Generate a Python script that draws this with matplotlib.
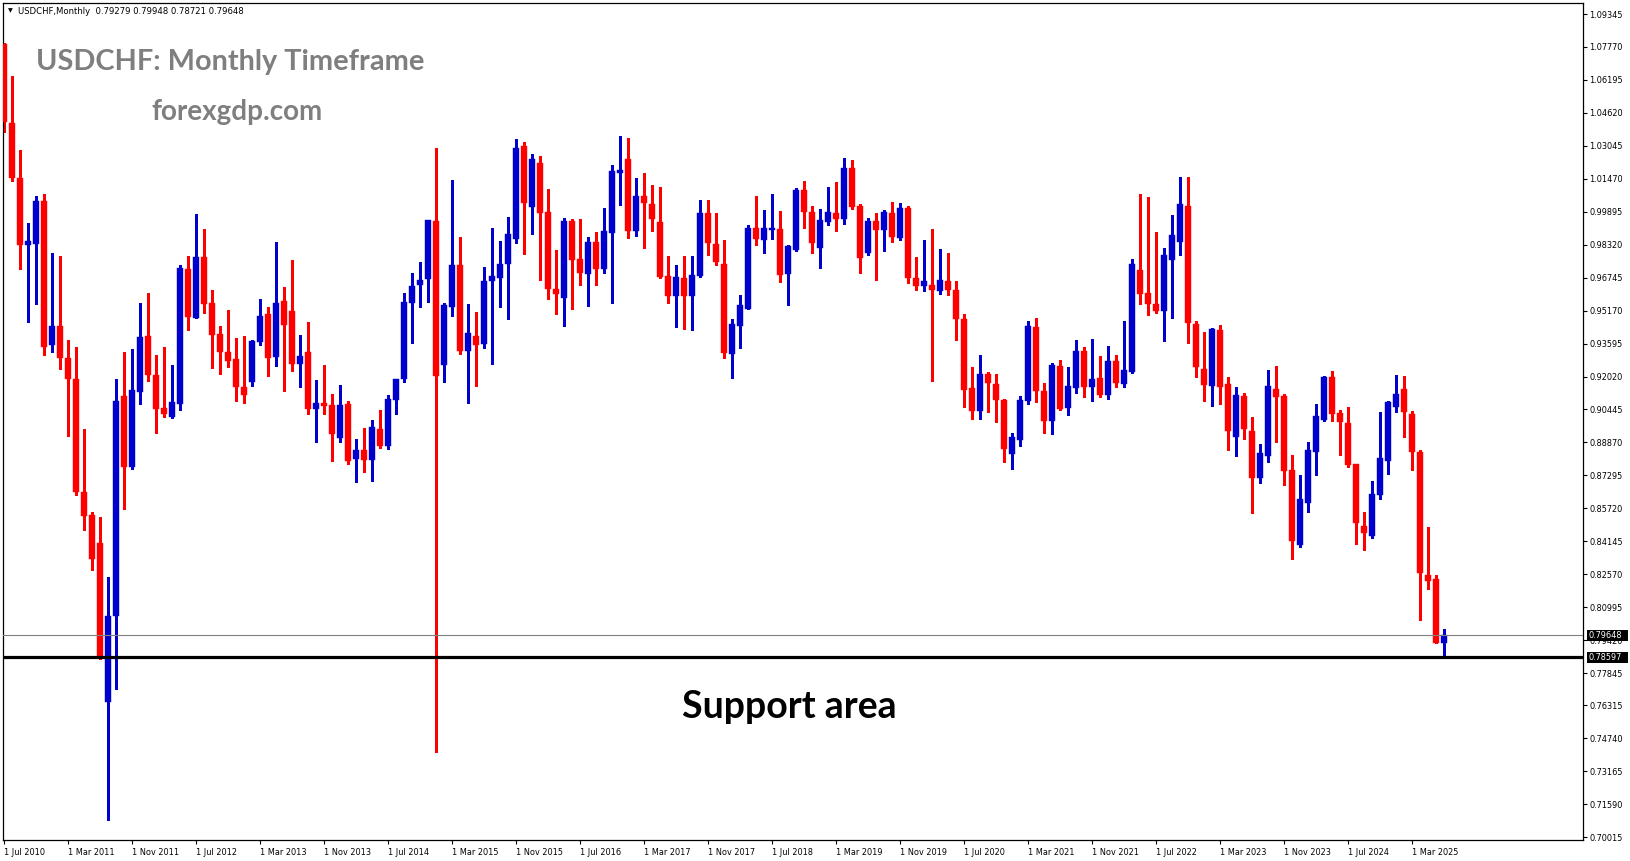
import numpy as np
import matplotlib
matplotlib.use("Agg")
import matplotlib.pyplot as plt
import matplotlib.transforms as mtransforms
from matplotlib.patches import Rectangle

# ---------------- data (monthly candles, 1 Jul 2010 .. 1 Jul 2025) ----------------
opens = [1.0789, 1.0414, 1.0150, 0.9829, 0.9835, 1.0041, 0.9353, 0.9443, 0.9290, 0.9192,
         0.8651, 0.8540, 0.8406, 0.7648, 0.8058, 0.9109, 0.8768, 0.9129, 0.9395, 0.9209,
         0.9050, 0.9007, 0.9072, 0.9716, 0.9480, 0.9773, 0.9555, 0.9404, 0.9319, 0.9284,
         0.9151, 0.9175, 0.9365, 0.9502, 0.9297, 0.9562, 0.9515, 0.9262, 0.9317, 0.9049,
         0.9075, 0.9065, 0.8910, 0.9071, 0.8810, 0.8850, 0.8804, 0.8950, 0.8870, 0.9091,
         0.9192, 0.9554, 0.9640, 0.9668, 0.9944, 0.9256, 0.9534, 0.9733, 0.9325, 0.9397,
         0.9357, 0.9658, 0.9675, 0.9739, 0.9860, 1.0302, 1.0013, 1.0223, 0.9988, 0.9620,
         0.9577, 0.9945, 0.9763, 0.9691, 0.9844, 0.9715, 0.9889, 1.0176, 1.0240, 0.9898,
         1.0064, 1.0026, 0.9940, 0.9682, 0.9588, 0.9672, 0.9588, 0.9682, 0.9984, 0.9835,
         0.9739, 0.9312, 0.9444, 0.9524, 0.9913, 0.9854, 0.9902, 0.9906, 0.9691, 0.9806,
         1.0093, 0.9989, 0.9817, 0.9941, 0.9983, 0.9954, 1.0198, 1.0017, 0.9793, 0.9945,
         0.9903, 0.9983, 0.9865, 1.0007, 0.9674, 0.9635, 0.9639, 0.9611, 0.9658, 0.9615,
         0.9478, 0.9146, 0.9038, 0.9213, 0.9166, 0.9089, 0.8832, 0.8898, 0.9086, 0.9438,
         0.9132, 0.8990, 0.9252, 0.9052, 0.9148, 0.9323, 0.9153, 0.9194, 0.9113, 0.9275,
         0.9166, 0.9224, 0.9710, 0.9599, 0.9551, 0.9516, 0.9758, 0.9846, 1.0016, 0.9452,
         0.9236, 0.9156, 0.9424, 0.9166, 0.8914, 0.9108, 0.8941, 0.8718, 0.8823, 0.9142,
         0.9108, 0.8754, 0.8396, 0.8598, 0.8842, 0.8993, 0.9199, 0.9027, 0.8979, 0.8783,
         0.8487, 0.8439, 0.8635, 0.8799, 0.9057, 0.9142, 0.9022, 0.8842, 0.8253, 0.8233,
         0.79279]
highs = [1.0795, 1.0638, 1.0285, 0.9936, 1.0063, 1.0072, 0.9792, 0.9777, 0.9375, 0.9343,
         0.8950, 0.8553, 0.8529, 0.8243, 0.9189, 0.9321, 0.9333, 0.9553, 0.9601, 0.9304,
         0.9341, 0.9255, 0.9736, 0.9777, 0.9980, 0.9906, 0.9614, 0.9443, 0.9521, 0.9384,
         0.9395, 0.9375, 0.9572, 0.9534, 0.9845, 0.9630, 0.9759, 0.9401, 0.9463, 0.9186,
         0.9256, 0.9120, 0.9162, 0.9085, 0.8904, 0.8957, 0.8995, 0.9043, 0.9115, 0.9192,
         0.9602, 0.9695, 0.9749, 0.9950, 1.0296, 0.9552, 1.0141, 0.9870, 0.9548, 0.9512,
         0.9725, 0.9914, 0.9850, 0.9964, 1.0336, 1.0322, 1.0265, 1.0255, 1.0098, 0.9806,
         0.9962, 0.9957, 0.9957, 0.9870, 0.9892, 1.0008, 1.0212, 1.0351, 1.0340, 1.0149,
         1.0177, 1.0117, 1.0106, 0.9777, 0.9734, 0.9777, 0.9777, 1.0045, 1.0045, 0.9984,
         0.9854, 0.9476, 0.9591, 0.9926, 1.0064, 0.9997, 1.0074, 0.9994, 0.9830, 1.0101,
         1.0136, 1.0016, 1.0002, 1.0107, 1.0131, 1.0246, 1.0236, 1.0026, 0.9959, 0.9983,
         0.9997, 1.0035, 1.0031, 1.0016, 0.9774, 0.9854, 0.9906, 0.9811, 0.9792, 0.9658,
         0.9500, 0.9247, 0.9304, 0.9224, 0.9213, 0.9094, 0.8930, 0.9108, 0.9467, 0.9482,
         0.9172, 0.9267, 0.9280, 0.9248, 0.9376, 0.9341, 0.9381, 0.9299, 0.9347, 0.9304,
         0.9467, 0.9763, 1.0074, 1.0058, 0.9892, 0.9814, 0.9973, 1.0156, 1.0156, 0.9467,
         0.9415, 0.9432, 0.9448, 0.9198, 0.9153, 0.9124, 0.9009, 0.8880, 0.9232, 0.9252,
         0.9118, 0.8826, 0.8731, 0.8890, 0.9073, 0.9205, 0.9228, 0.9041, 0.9057, 0.8786,
         0.8554, 0.8702, 0.9032, 0.9084, 0.9209, 0.9204, 0.9036, 0.8853, 0.8481, 0.8253,
         0.79948]
lows = [1.0370, 1.0138, 0.9716, 0.9463, 0.9550, 0.9304, 0.9321, 0.9236, 0.8919, 0.8634,
        0.8468, 0.8277, 0.7853, 0.7082, 0.7707, 0.8570, 0.8760, 0.9070, 0.9180, 0.8931,
        0.9009, 0.9004, 0.9041, 0.9424, 0.9480, 0.9504, 0.9241, 0.9216, 0.9248, 0.9085,
        0.9077, 0.9155, 0.9353, 0.9204, 0.9250, 0.9135, 0.9230, 0.9150, 0.9025, 0.8890,
        0.9025, 0.8800, 0.8890, 0.8782, 0.8699, 0.8747, 0.8705, 0.8862, 0.8858, 0.9025,
        0.9176, 0.9363, 0.9534, 0.9558, 0.7410, 0.9176, 0.9493, 0.9310, 0.9075, 0.9155,
        0.9337, 0.9260, 0.9532, 0.9477, 0.9840, 0.9789, 0.9883, 0.9663, 0.9572, 0.9500,
        0.9443, 0.9524, 0.9639, 0.9538, 0.9639, 0.9695, 0.9554, 1.0021, 0.9865, 0.9873,
        0.9817, 0.9898, 0.9674, 0.9554, 0.9439, 0.9428, 0.9424, 0.9678, 0.9782, 0.9734,
        0.9291, 0.9193, 0.9339, 0.9524, 0.9830, 0.9793, 0.9859, 0.9655, 0.9546, 0.9801,
        0.9910, 0.9793, 0.9721, 0.9926, 0.9897, 0.9930, 1.0002, 0.9698, 0.9782, 0.9663,
        0.9801, 0.9846, 0.9854, 0.9650, 0.9615, 0.9610, 0.9181, 0.9596, 0.9591, 0.9376,
        0.9057, 0.8998, 0.9000, 0.9033, 0.8985, 0.8794, 0.8759, 0.8871, 0.9073, 0.9081,
        0.8933, 0.8927, 0.9041, 0.9017, 0.9121, 0.9105, 0.9086, 0.9105, 0.9094, 0.9153,
        0.9153, 0.9220, 0.9548, 0.9495, 0.9506, 0.9372, 0.9482, 0.9782, 0.9360, 0.9200,
        0.9086, 0.9060, 0.9073, 0.8850, 0.8821, 0.8903, 0.8550, 0.8691, 0.8794, 0.8890,
        0.8683, 0.8329, 0.8388, 0.8555, 0.8731, 0.8990, 0.8990, 0.8826, 0.8770, 0.8401,
        0.8372, 0.8431, 0.8616, 0.8735, 0.9032, 0.8914, 0.8754, 0.8037, 0.8189, 0.7929,
        0.78721]
closes = [1.0419, 1.0150, 0.9829, 0.9848, 1.0041, 0.9341, 0.9443, 0.9290, 0.9192, 0.8651,
          0.8534, 0.8329, 0.7863, 0.8058, 0.9085, 0.8768, 0.9136, 0.9390, 0.9207, 0.9048,
          0.9024, 0.9078, 0.9721, 0.9487, 0.9773, 0.9548, 0.9402, 0.9317, 0.9277, 0.9151,
          0.9116, 0.9370, 0.9492, 0.9292, 0.9554, 0.9447, 0.9262, 0.9300, 0.9049, 0.9075,
          0.9063, 0.8928, 0.9065, 0.8800, 0.8850, 0.8804, 0.8960, 0.8870, 0.9095, 0.9190,
          0.9558, 0.9634, 0.9662, 0.9950, 0.9206, 0.9544, 0.9733, 0.9322, 0.9411, 0.9353,
          0.9658, 0.9682, 0.9739, 0.9883, 1.0296, 1.0030, 1.0240, 0.9984, 0.9620, 0.9596,
          0.9945, 0.9758, 0.9698, 0.9844, 0.9717, 0.9897, 1.0184, 1.0188, 0.9898, 1.0064,
          1.0032, 0.9953, 0.9678, 0.9588, 0.9677, 0.9588, 0.9687, 0.9984, 0.9841, 0.9750,
          0.9315, 0.9452, 0.9543, 0.9913, 0.9859, 0.9913, 0.9913, 0.9687, 0.9825, 1.0093,
          0.9989, 0.9841, 0.9949, 0.9989, 0.9954, 1.0198, 1.0012, 0.9769, 0.9945, 0.9903,
          0.9988, 0.9870, 1.0007, 0.9674, 0.9635, 0.9658, 0.9616, 0.9663, 0.9616, 0.9478,
          0.9138, 0.9038, 0.9213, 0.9172, 0.9090, 0.8858, 0.8912, 0.9089, 0.9444, 0.9134,
          0.8990, 0.9256, 0.9049, 0.9156, 0.9323, 0.9153, 0.9189, 0.9113, 0.9275, 0.9172,
          0.9232, 0.9738, 0.9596, 0.9548, 0.9516, 0.9782, 0.9878, 1.0026, 0.9459, 0.9248,
          0.9161, 0.9427, 0.9153, 0.8942, 0.9113, 0.8952, 0.8718, 0.8836, 0.9156, 0.9105,
          0.8751, 0.8417, 0.8616, 0.8850, 0.9013, 0.9199, 0.9024, 0.8985, 0.8778, 0.8500,
          0.8455, 0.8640, 0.8813, 0.9081, 0.9118, 0.9033, 0.8842, 0.8264, 0.8225, 0.79279,
          0.79648]

x_labels = ['1 Jul 2010', '1 Mar 2011', '1 Nov 2011', '1 Jul 2012', '1 Mar 2013', '1 Nov 2013',
            '1 Jul 2014', '1 Mar 2015', '1 Nov 2015', '1 Jul 2016', '1 Mar 2017', '1 Nov 2017',
            '1 Jul 2018', '1 Mar 2019', '1 Nov 2019', '1 Jul 2020', '1 Mar 2021', '1 Nov 2021',
            '1 Jul 2022', '1 Mar 2023', '1 Nov 2023', '1 Jul 2024', '1 Mar 2025']
months_per_label = 8

y_labels = ['1.09345', '1.07770', '1.06195', '1.04620', '1.03045', '1.01470', '0.99895',
            '0.98320', '0.96745', '0.95170', '0.93595', '0.92020', '0.90445', '0.88870',
            '0.87295', '0.85720', '0.84145', '0.82570', '0.80995', '0.79420', '0.77845',
            '0.76315', '0.74740', '0.73165', '0.71590', '0.70015']

support_level = 0.78597
last_price = 0.79648
header_text = 'USDCHF,Monthly  0.79279 0.79948 0.78721 0.79648'
title_text = 'USDCHF: Monthly Timeframe'
site_text = 'forexgdp.com'
support_text = 'Support area'

# ---------------- figure ----------------
W, H = 1631, 861
fig = plt.figure(figsize=(W / 100, H / 100), dpi=100)
fig.patch.set_facecolor('white')
L, R, T, B = 3, 1583, 3, 840
ax = fig.add_axes([L / W, 1 - B / H, (R - L) / W, (B - T) / H])
ax.set_facecolor('white')

o = np.array(opens); h = np.array(highs); lo = np.array(lows); c = np.array(closes)
x = np.arange(len(o))
bull = c >= o
BLUE, RED = '#0000CD', '#FF0000'
cols = np.where(bull, BLUE, RED)

ax.vlines(x, lo, h, colors=cols, linewidth=0.8, antialiased=False, zorder=2)
body_bottom = np.minimum(o, c)
body_h = np.maximum(np.abs(c - o), 0.0005)
ax.bar(x, body_h, bottom=body_bottom, width=0.68, color=cols, edgecolor=cols,
       linewidth=0.3, zorder=3)

# horizontal lines
ax.axhline(last_price, color='#808080', linewidth=0.8, zorder=4)
ax.axhline(support_level, color='black', linewidth=2.3, zorder=5)

ax.set_xlim(-0.125, (R - 4) / 8)
ax.set_ylim(0.69872, 1.09871)

# axes style
for s in ax.spines.values():
    s.set_color('black')
    s.set_linewidth(0.9)

axis_font = dict(family='DejaVu Sans', size=5.9)
ax.yaxis.tick_right()
ax.set_yticks([float(v) for v in y_labels])
ax.set_yticklabels(y_labels, **axis_font)
ax.tick_params(axis='y', which='both', direction='out', length=3, width=0.8, pad=1.5,
               colors='black')
xt = [i * months_per_label for i in range(len(x_labels))]
ax.set_xticks(xt)
ax.set_xticklabels(x_labels, ha='left', **axis_font)
ax.tick_params(axis='x', which='both', direction='out', length=3, width=0.8, pad=2.5,
               colors='black')

# price label boxes on the right
bt = mtransforms.blended_transform_factory(fig.transFigure, ax.transData)
box_h = 11 / 2092.6
for price, txt in [(last_price, '0.79648'), (support_level, '0.78597')]:
    rect = Rectangle((1587 / W, price - box_h / 2), 41 / W, box_h, transform=bt,
                     facecolor='black', edgecolor='none', clip_on=False, zorder=20)
    fig.add_artist(rect)
    fig.text(1589 / W, price, txt, transform=bt, color='white', va='center', ha='left',
             zorder=21, **axis_font)

# header
fig.text(10 / W, 1 - 11 / H, '\u25BC', ha='center', va='center', fontsize=4.5,
         family='DejaVu Sans', color='black')
fig.text(18 / W, 1 - 11 / H, header_text, ha='left', va='center', color='black',
         family='DejaVu Sans', size=6.1)

# overlay texts
fig.text(36 / W, 1 - 70 / H, title_text, ha='left', va='baseline', color='#7f7f7f',
         fontsize=20.8, fontweight='bold', family='Lato')
fig.text(151 / W, 1 - 120 / H, site_text, ha='left', va='baseline', color='#7f7f7f',
         fontsize=20, fontweight='bold', family='Lato')
fig.text(682 / W, 1 - 718 / H, support_text, ha='left', va='baseline', color='black',
         fontsize=27, fontweight='bold', family='Lato')

fig.savefig('out.png', dpi=100, facecolor='white')
